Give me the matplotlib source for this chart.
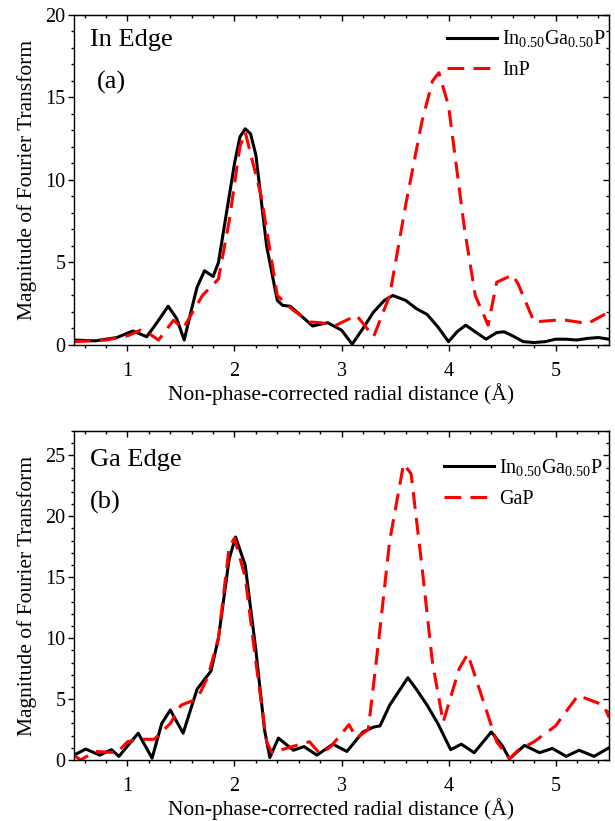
import numpy as np
import matplotlib
matplotlib.use("Agg")
import matplotlib.pyplot as plt
from matplotlib.ticker import MultipleLocator, NullFormatter

plt.rcParams['font.family'] = ['Liberation Serif', 'DejaVu Serif']
plt.rcParams['mathtext.fontset'] = 'custom'
plt.rcParams['mathtext.rm'] = 'Liberation Serif'

# In edge: In0.50Ga0.50P (black) and InP reference (red)
in_x = [0.5, 0.7, 0.9, 1.05, 1.18, 1.28, 1.38, 1.46, 1.53, 1.6, 1.65, 1.72, 1.8, 1.85, 1.9, 2.0, 2.05, 2.1,
        2.15, 2.2, 2.3, 2.4, 2.45, 2.52, 2.6, 2.73, 2.87, 3.0, 3.1, 3.2, 3.3, 3.4, 3.48, 3.6, 3.7, 3.8,
        3.9, 4.0, 4.08, 4.16, 4.25, 4.35, 4.45, 4.52, 4.6, 4.7, 4.8, 4.9, 5.0, 5.1, 5.2, 5.3, 5.4, 5.5]
in_alloy = [0.3, 0.25, 0.45, 0.85, 0.5, 1.4, 2.35, 1.6, 0.3, 2.2, 3.5, 4.5, 4.15, 5.0, 7.0, 11.0, 12.6, 13.1,
            12.8, 11.5, 6.0, 2.7, 2.4, 2.35, 1.9, 1.15, 1.35, 0.9, 0.05, 1.0, 2.0, 2.7, 3.0, 2.7, 2.2, 1.85,
            1.1, 0.2, 0.8, 1.2, 0.8, 0.35, 0.75, 0.8, 0.55, 0.2, 0.15, 0.2, 0.35, 0.35, 0.3, 0.4, 0.45, 0.35]
inp_x = [0.5, 0.8, 1.0, 1.12, 1.2, 1.29, 1.43, 1.52, 1.7, 1.85, 1.95, 2.05, 2.1, 2.25, 2.35, 2.4, 2.55, 2.7,
         2.8, 2.95, 3.14, 3.3, 3.45, 3.6, 3.75, 3.85, 3.91, 4.0, 4.05, 4.15, 4.25, 4.37, 4.45, 4.6, 4.65,
         4.8, 5.0, 5.1, 5.3, 5.5]
inp_y = [0.2, 0.3, 0.55, 0.9, 0.7, 0.3, 1.5, 1.0, 3.0, 4.0, 7.5, 12.0, 12.9, 9.0, 5.0, 3.0, 2.1, 1.4,
         1.35, 1.2, 1.8, 0.5, 3.0, 8.5, 13.5, 16.0, 16.5, 14.5, 12.0, 7.0, 3.0, 1.2, 3.8, 4.25, 3.7,
         1.4, 1.5, 1.5, 1.3, 2.0]

# Ga edge: In0.50Ga0.50P (black) and GaP reference (red)
ga_x = [0.5, 0.61, 0.74, 0.85, 0.92, 1.1, 1.23, 1.32, 1.4, 1.52, 1.65, 1.78, 1.85, 1.95, 2.01, 2.1, 2.2,
        2.28, 2.33, 2.41, 2.55, 2.65, 2.77, 2.92, 3.05, 3.2, 3.3, 3.36, 3.45, 3.62, 3.7, 3.8, 3.9, 4.02,
        4.12, 4.24, 4.4, 4.5, 4.57, 4.71, 4.85, 4.97, 5.1, 5.22, 5.36, 5.5]
ga_alloy = [0.4, 0.9, 0.4, 0.85, 0.3, 2.2, 0.15, 3.0, 4.1, 2.2, 5.8, 7.3, 10.0, 16.5, 18.3, 16.0, 9.0,
            2.5, 0.2, 1.8, 0.8, 1.1, 0.4, 1.3, 0.7, 2.3, 2.7, 2.8, 4.5, 6.75, 5.8, 4.5, 3.0, 0.85,
            1.3, 0.6, 2.3, 1.2, 0.1, 1.2, 0.6, 0.95, 0.3, 0.8, 0.3, 1.0]
gap_x = [0.5, 0.56, 0.7, 0.9, 1.0, 1.1, 1.25, 1.4, 1.5, 1.65, 1.75, 1.85, 1.95, 2.0, 2.1, 2.2, 2.3, 2.35,
         2.5, 2.7, 2.8, 2.9, 3.07, 3.14, 3.25, 3.35, 3.45, 3.58, 3.65, 3.75, 3.85, 3.95, 4.1, 4.18, 4.3,
         4.45, 4.57, 4.65, 4.8, 5.0, 5.21, 5.45, 5.5]
gap_y = [0.4, 0.0, 0.7, 0.6, 1.5, 1.7, 1.7, 3.0, 4.5, 5.0, 6.8, 10.0, 17.5, 18.2, 15.0, 8.0, 1.5, 0.6,
         1.0, 1.5, 0.5, 1.1, 2.9, 1.8, 2.5, 10.0, 18.0, 24.3, 23.5, 16.0, 8.0, 3.1, 7.5, 8.7, 5.5,
         1.5, 0.1, 0.8, 1.5, 2.8, 5.3, 4.5, 3.5]

alloy_label = r'In$_{0.50}$Ga$_{0.50}$P'
xlabel = u'Non-phase-corrected radial distance (\u00c5)'
ylabel = 'Magnitude of Fourier Transform'

fig = plt.figure(figsize=(6.15, 8.21), dpi=100)
ax1 = fig.add_axes([0.1203, 0.5798, 0.870, 0.402])
ax2 = fig.add_axes([0.1203, 0.0743, 0.870, 0.4007])


def style(ax, ymax):
    ax.set_xlim(0.5, 5.5)
    ax.set_ylim(0, ymax)
    ax.xaxis.set_major_locator(MultipleLocator(1))
    ax.xaxis.set_minor_locator(MultipleLocator(0.2))
    ax.yaxis.set_major_locator(MultipleLocator(5))
    ax.yaxis.set_minor_locator(MultipleLocator(1))
    ax.tick_params(which='both', direction='out', labelsize=14.5, width=1.0)
    ax.tick_params(which='major', length=4)
    ax.tick_params(which='minor', length=2.5)
    ax.tick_params(axis='x', which='major', pad=8)
    ax.tick_params(axis='y', which='major', pad=2)
    # top and right: inward ticks without labels
    top = ax.secondary_xaxis('top')
    top.xaxis.set_major_locator(MultipleLocator(1))
    top.xaxis.set_minor_locator(MultipleLocator(0.2))
    top.xaxis.set_major_formatter(NullFormatter())
    top.tick_params(which='both', direction='in', width=1.0)
    top.tick_params(which='major', length=4)
    top.tick_params(which='minor', length=2.5)
    right = ax.secondary_yaxis('right')
    right.yaxis.set_major_locator(MultipleLocator(5))
    right.yaxis.set_minor_locator(MultipleLocator(1))
    right.yaxis.set_major_formatter(NullFormatter())
    right.tick_params(which='both', direction='in', width=1.0)
    right.tick_params(which='major', length=4)
    right.tick_params(which='minor', length=2.5)
    ax.set_xlabel(xlabel, fontsize=15.5, labelpad=1.5)
    ax.set_ylabel(ylabel, fontsize=15.5, labelpad=6)
    for s in ax.spines.values():
        s.set_linewidth(1.0)


ax1.plot(in_x, in_alloy, color='black', lw=2.2, label=alloy_label)
ax1.plot(inp_x, inp_y, color='red', lw=2.2, dashes=(5.5, 3), label='InP')
style(ax1, 20)
ax1.text(0.65, 18.5, 'In Edge', fontsize=19, va='center')
ax1.text(0.715, 15.9, '(a)', fontsize=19, va='center')
ax1.legend(loc='upper right', bbox_to_anchor=(0.993, 0.958), frameon=False, fontsize=14.5,
           handlelength=2.5, borderaxespad=0, borderpad=0, handletextpad=0.25, labelspacing=0.55)

ax2.plot(ga_x, ga_alloy, color='black', lw=2.2, label=alloy_label)
ax2.plot(gap_x, gap_y, color='red', lw=2.2, dashes=(5.5, 3), label='GaP')
style(ax2, 27)
ax2.text(0.65, 24.6, 'Ga Edge', fontsize=19, va='center')
ax2.text(0.65, 21.1, '(b)', fontsize=19, va='center')
ax2.legend(loc='upper right', bbox_to_anchor=(0.988, 0.92), frameon=False, fontsize=14.5,
           handlelength=2.5, borderaxespad=0, borderpad=0, handletextpad=0.25, labelspacing=0.55)

fig.savefig('out.png', dpi=100)
